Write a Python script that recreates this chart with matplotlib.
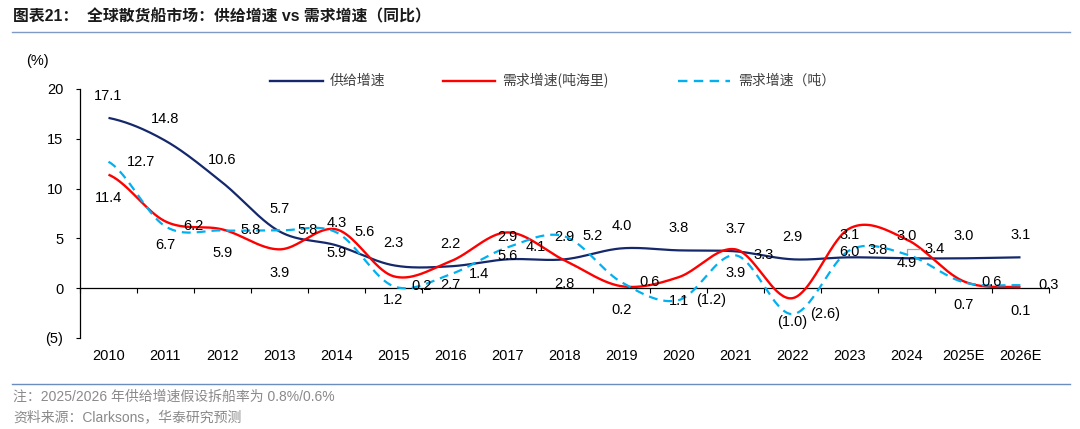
import numpy as np
import matplotlib
matplotlib.use('Agg')
import matplotlib.pyplot as plt
from matplotlib.lines import Line2D

plt.rcParams['font.family'] = ['Liberation Sans', 'Noto Sans CJK SC', 'DejaVu Sans']

years = ['2010', '2011', '2012', '2013', '2014', '2015', '2016', '2017', '2018',
         '2019', '2020', '2021', '2022', '2023', '2024', '2025E', '2026E']
supply = [17.1, 14.8, 10.6, 5.7, 4.3, 2.3, 2.2, 2.9, 2.9, 4.0, 3.8, 3.7, 2.9, 3.1, 3.0, 3.0, 3.1]
demand_tm = [11.4, 6.7, 5.9, 3.9, 5.9, 1.2, 2.7, 5.6, 2.8, 0.2, 1.1, 3.9, -1.0, 6.0, 4.9, 0.7, 0.1]
demand_t = [12.7, 6.2, 5.8, 5.8, 5.6, 0.2, 1.4, 4.1, 5.2, 0.6, -1.2, 3.3, -2.6, 3.8, 3.4, 0.6, 0.3]

series_names = ['供给增速', '需求增速(吨海里)', '需求增速（吨）']
yticks = [-5, 0, 5, 10, 15, 20]

NAVY = '#14286B'
RED = '#FF0000'
CYAN = '#00B0F0'


def smooth(y, n=40):
    """Excel-style smoothed line (Catmull-Rom / Hermite through the points)."""
    y = np.asarray(y, float)
    x = np.arange(len(y))
    yp = np.concatenate([[y[0]], y, [y[-1]]])
    xs, ys = [], []
    for i in range(len(y) - 1):
        m0 = (yp[i + 2] - yp[i]) / 2
        m1 = (yp[i + 3] - yp[i + 1]) / 2
        t = np.linspace(0, 1, n, endpoint=(i == len(y) - 2))
        h00 = 2 * t**3 - 3 * t**2 + 1
        h10 = t**3 - 2 * t**2 + t
        h01 = -2 * t**3 + 3 * t**2
        h11 = t**3 - t**2
        ys.append(h00 * y[i] + h10 * m0 + h01 * y[i + 1] + h11 * m1)
        xs.append(x[i] + t)
    return np.concatenate(xs), np.concatenate(ys)


def fmt(v):
    return f'({abs(v):.1f})' if v < 0 else f'{v:.1f}'


fig = plt.figure(figsize=(10.8, 4.29), dpi=100)
ax = fig.add_axes([80 / 1080, 1 - 338 / 429, 969 / 1080, 249 / 429])

x = np.arange(len(years))
xs, ys = smooth(supply)
ax.plot(xs, ys, color=NAVY, lw=1.6, zorder=2, solid_capstyle='butt')
xs, ys = smooth(demand_tm)
ax.plot(xs, ys, color=RED, lw=1.7, zorder=3, solid_capstyle='butt')
xs, ys = smooth(demand_t)
ax.plot(xs, ys, color=CYAN, lw=1.6, ls=(0, (4, 2.7)), zorder=4)

ax.set_xlim(-0.5, len(years) - 0.5)
ax.set_ylim(-5, 20)
ax.set_yticks(yticks)
ax.set_yticklabels([fmt(v).replace('.0', '') if v < 0 else str(v) for v in yticks])
ax.tick_params(axis='y', direction='out', length=3, width=0.8, pad=9, labelsize=10.5,
               colors='#000000')
ax.set_xticks(np.arange(len(years) + 1) - 0.5)
ax.set_xticklabels([])
ax.tick_params(axis='x', direction='out', length=3.5, width=0.8)
for s in ['top', 'right']:
    ax.spines[s].set_visible(False)
ax.spines['bottom'].set_position(('data', 0))
ax.spines['bottom'].set_bounds(-0.5, len(years) - 0.5)
ax.spines['bottom'].set_linewidth(0.9)
ax.spines['left'].set_linewidth(0.9)

# category labels at bottom
for i, yr in enumerate(years):
    ax.annotate(yr, xy=(i, 0), xycoords=('data', 'axes fraction'), xytext=(0, -13),
                textcoords='offset points', ha='center', va='center', fontsize=10.5)

# data labels
for i, v in enumerate(supply):
    ax.annotate(fmt(v), xy=(i, v), xytext=(0, 16), textcoords='offset points',
                ha='center', va='center', fontsize=10.5, zorder=6)
for i, v in enumerate(demand_tm):
    ax.annotate(fmt(v), xy=(i, v), xytext=(0, -17), textcoords='offset points',
                ha='center', va='center', fontsize=10.5, zorder=6)
for i, v in enumerate(demand_t):
    if years[i] == '2024':
        ax.annotate(fmt(v), xy=(i, v), xytext=(13, 4), textcoords='offset points',
                    ha='left', va='center', fontsize=10.5, zorder=6,
                    arrowprops=dict(arrowstyle='-', color='#A6A6A6', lw=0.9,
                                    shrinkA=1, shrinkB=1,
                                    connectionstyle='angle,angleA=0,angleB=90,rad=0'))
    else:
        ax.annotate(fmt(v), xy=(i, v), xytext=(13, 0), textcoords='offset points',
                    ha='left', va='center', fontsize=10.5, zorder=6)

# (%) unit
fig.text(37 / 1080, 1 - 61 / 429, '(%)', ha='center', va='center', fontsize=10.5)

# legend (manual, figure coordinates)
leg_y = 1 - 81 / 429
handles = [(270, 323, NAVY, '-'), (443, 495, RED, '-'), (678, 730, CYAN, (0, (4, 2.7)))]
text_x = [330, 502, 738]
for (x0, x1, c, ls), tx, name in zip(handles, text_x, series_names):
    fig.add_artist(Line2D([x0 / 1080, x1 / 1080], [leg_y, leg_y], color=c, lw=1.7, ls=ls,
                          transform=fig.transFigure))
    fig.text(tx / 1080, leg_y, name, ha='left', va='center', fontsize=10,
             color='#404040', family=['Noto Sans CJK SC', 'DejaVu Sans'])

# title and rules
fig.text(13 / 1080, 1 - 17 / 429, '图表21：  全球散货船市场：供给增速 vs 需求增速（同比）',
         ha='left', va='center', fontsize=11.4, fontweight='bold', color='#1a1a1a')
fig.add_artist(Line2D([12 / 1080, 1070 / 1080], [1 - 32 / 429, 1 - 32 / 429],
                      color='#7F9AC4', lw=1.0, transform=fig.transFigure))
fig.add_artist(Line2D([12 / 1080, 1070 / 1080], [1 - 384 / 429, 1 - 384 / 429],
                      color='#6A8CBF', lw=1.0, transform=fig.transFigure))
fig.text(13 / 1080, 1 - 397 / 429, '注：2025/2026 年供给增速假设拆船率为 0.8%/0.6%',
         ha='left', va='center', fontsize=10, color='#8a8a8a')
fig.text(13 / 1080, 1 - 417 / 429, '资料来源：Clarksons，华泰研究预测',
         ha='left', va='center', fontsize=10, color='#8a8a8a')

fig.savefig('out.png', dpi=100)
